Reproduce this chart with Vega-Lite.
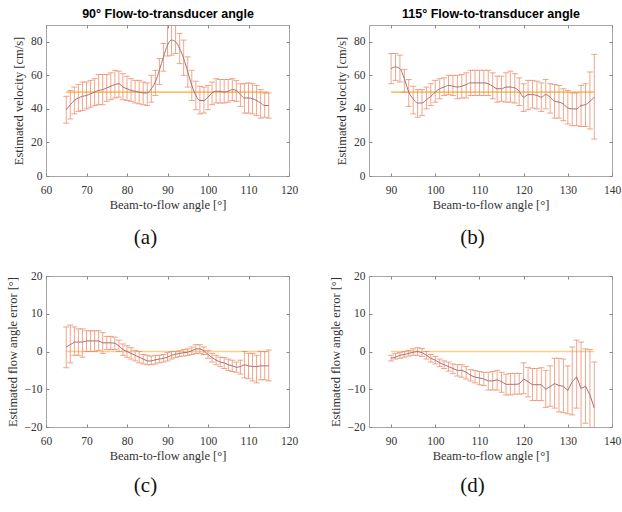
{
  "$schema": "https://vega.github.io/schema/vega-lite/v6.json",
  "background": "white",
  "padding": {"left": 5, "top": 7, "right": 0, "bottom": 0},
  "config": {
    "font": "Liberation Serif",
    "view": {"stroke": "#a6a6a6", "strokeWidth": 1},
    "axis": {"labelFont": "Liberation Serif", "labelFontSize": 11.5, "labelColor": "#333333", "titleFont": "Liberation Serif", "titleFontSize": 12.5, "titleFontWeight": "normal", "titleColor": "#333333", "grid": false, "domain": false, "tickColor": "#888888", "tickSize": -3, "labelPadding": 7, "labelFlush": false, "labelOverlap": false, "titlePadding": 5},
    "axisBottom": {"labelPadding": 11, "titlePadding": 3},
    "title": {"font": "Liberation Serif", "fontSize": 21, "fontWeight": "normal", "color": "#111111"}
  },
  "datasets": {
    "a": [
      {"angle":65,"mean":39.5,"lo":31.5,"hi":47.5,"ref":50},
      {"angle":66,"mean":42.5,"lo":34,"hi":51,"ref":50},
      {"angle":67,"mean":45,"lo":37,"hi":53,"ref":50},
      {"angle":68,"mean":46.5,"lo":38.5,"hi":54.5,"ref":50},
      {"angle":69,"mean":47.5,"lo":39,"hi":56,"ref":50},
      {"angle":70,"mean":48,"lo":40,"hi":56,"ref":50},
      {"angle":71,"mean":49,"lo":41,"hi":57,"ref":50},
      {"angle":72,"mean":50,"lo":42,"hi":58,"ref":50},
      {"angle":73,"mean":51,"lo":42.5,"hi":60.5,"ref":50},
      {"angle":74,"mean":51.5,"lo":42.5,"hi":60.5,"ref":50},
      {"angle":75,"mean":52.5,"lo":44.5,"hi":60.5,"ref":50},
      {"angle":76,"mean":53.5,"lo":45.5,"hi":61.5,"ref":50},
      {"angle":77,"mean":54.5,"lo":46.5,"hi":63,"ref":50},
      {"angle":78,"mean":55,"lo":47,"hi":62.5,"ref":50},
      {"angle":79,"mean":53,"lo":45.5,"hi":61,"ref":50},
      {"angle":80,"mean":52,"lo":45,"hi":59.5,"ref":50},
      {"angle":81,"mean":51,"lo":44.5,"hi":58,"ref":50},
      {"angle":82,"mean":50.5,"lo":43.5,"hi":57,"ref":50},
      {"angle":83,"mean":50,"lo":43,"hi":57,"ref":50},
      {"angle":84,"mean":49.5,"lo":42.5,"hi":56,"ref":50},
      {"angle":85,"mean":49.5,"lo":42,"hi":55.5,"ref":50},
      {"angle":86,"mean":52,"lo":44,"hi":60,"ref":50},
      {"angle":87,"mean":56,"lo":48,"hi":63,"ref":50},
      {"angle":88,"mean":63,"lo":54.5,"hi":70,"ref":50},
      {"angle":89,"mean":71,"lo":62.5,"hi":79,"ref":50},
      {"angle":90,"mean":78,"lo":71.5,"hi":90.5,"ref":50},
      {"angle":91,"mean":81,"lo":72,"hi":91,"ref":50},
      {"angle":92,"mean":80,"lo":73,"hi":90.5,"ref":50},
      {"angle":93,"mean":76,"lo":67,"hi":85,"ref":50},
      {"angle":94,"mean":70,"lo":60,"hi":81,"ref":50},
      {"angle":95,"mean":62,"lo":53,"hi":71,"ref":50},
      {"angle":96,"mean":54,"lo":45,"hi":63,"ref":50},
      {"angle":97,"mean":48,"lo":39.5,"hi":56.5,"ref":50},
      {"angle":98,"mean":45,"lo":37,"hi":53.5,"ref":50},
      {"angle":99,"mean":45,"lo":37.5,"hi":53,"ref":50},
      {"angle":100,"mean":47,"lo":39.5,"hi":54,"ref":50},
      {"angle":101,"mean":49.5,"lo":42.5,"hi":56,"ref":50},
      {"angle":102,"mean":50.5,"lo":43.5,"hi":58,"ref":50},
      {"angle":103,"mean":50.5,"lo":43.5,"hi":57.5,"ref":50},
      {"angle":104,"mean":50,"lo":43.5,"hi":57.5,"ref":50},
      {"angle":105,"mean":50.5,"lo":44,"hi":57.5,"ref":50},
      {"angle":106,"mean":51.5,"lo":45,"hi":58,"ref":50},
      {"angle":107,"mean":51,"lo":44.5,"hi":57,"ref":50},
      {"angle":108,"mean":48.5,"lo":41.5,"hi":55,"ref":50},
      {"angle":109,"mean":46.5,"lo":37.5,"hi":55,"ref":50},
      {"angle":110,"mean":46.5,"lo":37.5,"hi":55.5,"ref":50},
      {"angle":111,"mean":46,"lo":37,"hi":55,"ref":50},
      {"angle":112,"mean":45,"lo":36,"hi":54,"ref":50},
      {"angle":113,"mean":43.5,"lo":34.5,"hi":51.5,"ref":50},
      {"angle":114,"mean":42,"lo":35,"hi":49.5,"ref":50},
      {"angle":115,"mean":42,"lo":34.5,"hi":49.5,"ref":50}
    ],
    "b": [
      {"angle":90,"mean":64,"lo":55,"hi":73,"ref":50},
      {"angle":91,"mean":65,"lo":57,"hi":73,"ref":50},
      {"angle":92,"mean":64,"lo":56,"hi":72,"ref":50},
      {"angle":93,"mean":58,"lo":50,"hi":63.5,"ref":50},
      {"angle":94,"mean":50,"lo":41.5,"hi":57.5,"ref":50},
      {"angle":95,"mean":46,"lo":37,"hi":53.5,"ref":50},
      {"angle":96,"mean":43.5,"lo":35,"hi":51.5,"ref":50},
      {"angle":97,"mean":43.5,"lo":36,"hi":51.5,"ref":50},
      {"angle":98,"mean":45.5,"lo":40,"hi":53,"ref":50},
      {"angle":99,"mean":47.5,"lo":42,"hi":55,"ref":50},
      {"angle":100,"mean":50,"lo":44,"hi":57,"ref":50},
      {"angle":101,"mean":52,"lo":46,"hi":58,"ref":50},
      {"angle":102,"mean":53,"lo":48,"hi":58.5,"ref":50},
      {"angle":103,"mean":54,"lo":48.5,"hi":60,"ref":50},
      {"angle":104,"mean":53.5,"lo":48,"hi":60,"ref":50},
      {"angle":105,"mean":53,"lo":46,"hi":60,"ref":50},
      {"angle":106,"mean":53.5,"lo":46.5,"hi":60.5,"ref":50},
      {"angle":107,"mean":54.5,"lo":46.5,"hi":61.5,"ref":50},
      {"angle":108,"mean":55.5,"lo":48,"hi":63,"ref":50},
      {"angle":109,"mean":55.5,"lo":48,"hi":63,"ref":50},
      {"angle":110,"mean":55.5,"lo":48,"hi":63,"ref":50},
      {"angle":111,"mean":55.5,"lo":48,"hi":63,"ref":50},
      {"angle":112,"mean":55,"lo":48,"hi":63,"ref":50},
      {"angle":113,"mean":53.5,"lo":46,"hi":61.5,"ref":50},
      {"angle":114,"mean":52,"lo":44,"hi":59.5,"ref":50},
      {"angle":115,"mean":52,"lo":44.5,"hi":59.5,"ref":50},
      {"angle":116,"mean":53,"lo":44,"hi":61.5,"ref":50},
      {"angle":117,"mean":53,"lo":44,"hi":62.5,"ref":50},
      {"angle":118,"mean":52.5,"lo":43.5,"hi":61,"ref":50},
      {"angle":119,"mean":50.5,"lo":42,"hi":58.5,"ref":50},
      {"angle":120,"mean":47,"lo":38.5,"hi":55,"ref":50},
      {"angle":121,"mean":48.5,"lo":39.5,"hi":57,"ref":50},
      {"angle":122,"mean":48.5,"lo":40.5,"hi":57,"ref":50},
      {"angle":123,"mean":48,"lo":40,"hi":56.5,"ref":50},
      {"angle":124,"mean":47,"lo":38.5,"hi":55.5,"ref":50},
      {"angle":125,"mean":48.5,"lo":40,"hi":57.5,"ref":50},
      {"angle":126,"mean":47,"lo":37.5,"hi":55,"ref":50},
      {"angle":127,"mean":44.5,"lo":34.5,"hi":54.5,"ref":50},
      {"angle":128,"mean":44,"lo":34.5,"hi":54,"ref":50},
      {"angle":129,"mean":43,"lo":33,"hi":52,"ref":50},
      {"angle":130,"mean":40.5,"lo":31,"hi":51,"ref":50},
      {"angle":131,"mean":40,"lo":30,"hi":49.5,"ref":50},
      {"angle":132,"mean":40,"lo":30,"hi":49.5,"ref":50},
      {"angle":133,"mean":42,"lo":29.5,"hi":54,"ref":50},
      {"angle":134,"mean":42.5,"lo":29.5,"hi":55,"ref":50},
      {"angle":135,"mean":44.5,"lo":28,"hi":62,"ref":50},
      {"angle":136,"mean":47,"lo":22,"hi":72.5,"ref":50}
    ],
    "c": [
      {"angle":65,"mean":1.2,"lo":-4.3,"hi":6.5,"ref":0},
      {"angle":66,"mean":1.8,"lo":-3,"hi":7,"ref":0},
      {"angle":67,"mean":2.5,"lo":-1,"hi":6.5,"ref":0},
      {"angle":68,"mean":2.5,"lo":-1,"hi":6,"ref":0},
      {"angle":69,"mean":2.5,"lo":-1.5,"hi":6,"ref":0},
      {"angle":70,"mean":2.8,"lo":0,"hi":5.5,"ref":0},
      {"angle":71,"mean":2.8,"lo":0,"hi":5.5,"ref":0},
      {"angle":72,"mean":2.8,"lo":0,"hi":5.5,"ref":0},
      {"angle":73,"mean":2.8,"lo":0.3,"hi":5.5,"ref":0},
      {"angle":74,"mean":2.3,"lo":-0.5,"hi":5,"ref":0},
      {"angle":75,"mean":2.3,"lo":0.5,"hi":4,"ref":0},
      {"angle":76,"mean":2.3,"lo":0.5,"hi":4,"ref":0},
      {"angle":77,"mean":2.2,"lo":0.5,"hi":3.8,"ref":0},
      {"angle":78,"mean":1.5,"lo":0,"hi":3,"ref":0},
      {"angle":79,"mean":0.5,"lo":-1,"hi":2,"ref":0},
      {"angle":80,"mean":0,"lo":-1.5,"hi":1.5,"ref":0},
      {"angle":81,"mean":-0.5,"lo":-2,"hi":1,"ref":0},
      {"angle":82,"mean":-1,"lo":-2.5,"hi":0.3,"ref":0},
      {"angle":83,"mean":-1.5,"lo":-3,"hi":0,"ref":0},
      {"angle":84,"mean":-2,"lo":-3.3,"hi":-0.8,"ref":0},
      {"angle":85,"mean":-2.5,"lo":-3.5,"hi":-1,"ref":0},
      {"angle":86,"mean":-2.5,"lo":-3.5,"hi":-1.2,"ref":0},
      {"angle":87,"mean":-2.2,"lo":-3.3,"hi":-1,"ref":0},
      {"angle":88,"mean":-2,"lo":-3,"hi":-1,"ref":0},
      {"angle":89,"mean":-1.8,"lo":-2.8,"hi":-0.8,"ref":0},
      {"angle":90,"mean":-1.5,"lo":-2.5,"hi":-0.3,"ref":0},
      {"angle":91,"mean":-1,"lo":-2,"hi":0,"ref":0},
      {"angle":92,"mean":-0.7,"lo":-1.6,"hi":0,"ref":0},
      {"angle":93,"mean":-0.5,"lo":-1.3,"hi":0.2,"ref":0},
      {"angle":94,"mean":-0.3,"lo":-1.2,"hi":0.5,"ref":0},
      {"angle":95,"mean":-0.2,"lo":-1,"hi":0.7,"ref":0},
      {"angle":96,"mean":0.2,"lo":-0.8,"hi":1.2,"ref":0},
      {"angle":97,"mean":0.7,"lo":-0.5,"hi":1.8,"ref":0},
      {"angle":98,"mean":0.7,"lo":-0.5,"hi":1.8,"ref":0},
      {"angle":99,"mean":0.2,"lo":-0.8,"hi":1.2,"ref":0},
      {"angle":100,"mean":-0.8,"lo":-1.8,"hi":0.3,"ref":0},
      {"angle":101,"mean":-1.6,"lo":-2.8,"hi":-0.5,"ref":0},
      {"angle":102,"mean":-2.3,"lo":-3.5,"hi":-1,"ref":0},
      {"angle":103,"mean":-2.8,"lo":-4,"hi":-1.5,"ref":0},
      {"angle":104,"mean":-3,"lo":-4.5,"hi":-1.6,"ref":0},
      {"angle":105,"mean":-3.5,"lo":-5,"hi":-2,"ref":0},
      {"angle":106,"mean":-3.8,"lo":-5.3,"hi":-2.3,"ref":0},
      {"angle":107,"mean":-4.2,"lo":-5.5,"hi":-2.8,"ref":0},
      {"angle":108,"mean":-4,"lo":-6,"hi":-2.3,"ref":0},
      {"angle":109,"mean":-3.5,"lo":-7,"hi":0,"ref":0},
      {"angle":110,"mean":-3.8,"lo":-7.2,"hi":-0.5,"ref":0},
      {"angle":111,"mean":-4,"lo":-7.8,"hi":-0.5,"ref":0},
      {"angle":112,"mean":-4,"lo":-8.3,"hi":-1,"ref":0},
      {"angle":113,"mean":-3.8,"lo":-7.5,"hi":0,"ref":0},
      {"angle":114,"mean":-3.8,"lo":-7.5,"hi":0,"ref":0},
      {"angle":115,"mean":-3.8,"lo":-7.8,"hi":0.4,"ref":0}
    ],
    "d": [
      {"angle":90,"mean":-1.8,"lo":-2.5,"hi":-1,"ref":0},
      {"angle":91,"mean":-1.5,"lo":-2,"hi":-0.5,"ref":0},
      {"angle":92,"mean":-1,"lo":-1.8,"hi":-0.3,"ref":0},
      {"angle":93,"mean":-0.8,"lo":-1.5,"hi":0,"ref":0},
      {"angle":94,"mean":-0.5,"lo":-1.2,"hi":0.3,"ref":0},
      {"angle":95,"mean":-0.2,"lo":-1,"hi":0.7,"ref":0},
      {"angle":96,"mean":0,"lo":-1,"hi":1,"ref":0},
      {"angle":97,"mean":-0.3,"lo":-1.3,"hi":0.8,"ref":0},
      {"angle":98,"mean":-1,"lo":-2,"hi":0,"ref":0},
      {"angle":99,"mean":-1.8,"lo":-2.8,"hi":-0.8,"ref":0},
      {"angle":100,"mean":-2.3,"lo":-3.3,"hi":-1.3,"ref":0},
      {"angle":101,"mean":-3,"lo":-4,"hi":-2,"ref":0},
      {"angle":102,"mean":-3.5,"lo":-4.5,"hi":-2.5,"ref":0},
      {"angle":103,"mean":-4,"lo":-5.2,"hi":-2.8,"ref":0},
      {"angle":104,"mean":-4.5,"lo":-5.8,"hi":-3.3,"ref":0},
      {"angle":105,"mean":-5,"lo":-6.5,"hi":-3.5,"ref":0},
      {"angle":106,"mean":-5,"lo":-6.8,"hi":-3.5,"ref":0},
      {"angle":107,"mean":-5.5,"lo":-7.3,"hi":-4,"ref":0},
      {"angle":108,"mean":-6.3,"lo":-7.8,"hi":-4.8,"ref":0},
      {"angle":109,"mean":-6.8,"lo":-8.3,"hi":-5,"ref":0},
      {"angle":110,"mean":-7,"lo":-8.8,"hi":-5.3,"ref":0},
      {"angle":111,"mean":-7.3,"lo":-9,"hi":-5.5,"ref":0},
      {"angle":112,"mean":-7.8,"lo":-10.2,"hi":-5.5,"ref":0},
      {"angle":113,"mean":-7.8,"lo":-10.2,"hi":-5.3,"ref":0},
      {"angle":114,"mean":-7.5,"lo":-10.2,"hi":-5,"ref":0},
      {"angle":115,"mean":-8,"lo":-10.8,"hi":-5.5,"ref":0},
      {"angle":116,"mean":-8.7,"lo":-11.5,"hi":-6,"ref":0},
      {"angle":117,"mean":-8.7,"lo":-11.5,"hi":-5.8,"ref":0},
      {"angle":118,"mean":-8.7,"lo":-11.3,"hi":-5.8,"ref":0},
      {"angle":119,"mean":-8.6,"lo":-11.3,"hi":-5.8,"ref":0},
      {"angle":120,"mean":-7.3,"lo":-11.2,"hi":-3,"ref":0},
      {"angle":121,"mean":-8,"lo":-12,"hi":-4.2,"ref":0},
      {"angle":122,"mean":-8.8,"lo":-13,"hi":-4.5,"ref":0},
      {"angle":123,"mean":-8.8,"lo":-13,"hi":-4.5,"ref":0},
      {"angle":124,"mean":-8.8,"lo":-13,"hi":-4.3,"ref":0},
      {"angle":125,"mean":-10,"lo":-14.8,"hi":-5,"ref":0},
      {"angle":126,"mean":-9.3,"lo":-14.5,"hi":-3.8,"ref":0},
      {"angle":127,"mean":-8.5,"lo":-15,"hi":-1.8,"ref":0},
      {"angle":128,"mean":-9,"lo":-16,"hi":-1.8,"ref":0},
      {"angle":129,"mean":-9.2,"lo":-16.2,"hi":-2,"ref":0},
      {"angle":130,"mean":-10.3,"lo":-16.5,"hi":-3.8,"ref":0},
      {"angle":131,"mean":-8,"lo":-16.8,"hi":1.2,"ref":0},
      {"angle":132,"mean":-6.7,"lo":-15,"hi":3,"ref":0},
      {"angle":133,"mean":-9.8,"lo":-20.5,"hi":2.5,"ref":0},
      {"angle":134,"mean":-9.2,"lo":-19,"hi":0.7,"ref":0},
      {"angle":135,"mean":-11.5,"lo":-21,"hi":0.5,"ref":0},
      {"angle":136,"mean":-15,"lo":-22,"hi":-2.8,"ref":0}
    ]
  },
  "columns": 2,
  "spacing": {"column": 29, "row": 20},
  "concat": [
    {
      "width": 243, "height": 151,
      "data": {"name": "a"},
      "title": {"text": "(a)", "orient": "bottom", "offset": 16, "dx": -22},
      "resolve": {"axis": {"x": "independent", "y": "independent"}},
      "layer": [
        {"mark": {"type": "line", "color": "#f8c46a", "strokeWidth": 1.6},
         "encoding": {
           "x": {"field": "angle", "type": "quantitative", "scale": {"domain": [60, 120]}, "axis": {"orient": "bottom", "values": [60,70,80,90,100,110,120], "title": "Beam-to-flow angle [°]"}},
           "y": {"field": "ref", "type": "quantitative", "scale": {"domain": [0, 90]}, "axis": {"orient": "left", "values": [0,20,40,60,80], "title": "Estimated velocity [cm/s]"}}}},
        {"mark": {"type": "errorbar", "ticks": {"size": 6}, "color": "#ec8864", "opacity": 0.75, "thickness": 1, "clip": true},
         "encoding": {
           "x": {"field": "angle", "type": "quantitative", "axis": null},
           "y": {"field": "lo", "type": "quantitative", "axis": null},
           "y2": {"field": "hi"}}},
        {"mark": {"type": "line", "interpolate": "monotone", "color": "#a07078", "strokeWidth": 1},
         "encoding": {
           "x": {"field": "angle", "type": "quantitative", "axis": {"orient": "top", "values": [60,70,80,90,100,110,120], "labels": false, "title": "90° Flow-to-transducer angle", "titleFont": "Liberation Sans", "titleFontWeight": "bold", "titleFontSize": 12.5, "titleColor": "#000000", "titlePadding": 4}},
           "y": {"field": "mean", "type": "quantitative", "axis": {"orient": "right", "values": [0,20,40,60,80], "labels": false, "title": null}}}}
      ]
    },
    {
      "width": 243, "height": 151,
      "data": {"name": "b"},
      "title": {"text": "(b)", "orient": "bottom", "offset": 16, "dx": -18},
      "resolve": {"axis": {"x": "independent", "y": "independent"}},
      "layer": [
        {"mark": {"type": "line", "color": "#f8c46a", "strokeWidth": 1.6},
         "encoding": {
           "x": {"field": "angle", "type": "quantitative", "scale": {"domain": [85, 140]}, "axis": {"orient": "bottom", "values": [90,100,110,120,130,140], "title": "Beam-to-flow angle [°]"}},
           "y": {"field": "ref", "type": "quantitative", "scale": {"domain": [0, 90]}, "axis": {"orient": "left", "values": [0,20,40,60,80], "title": "Estimated velocity [cm/s]"}}}},
        {"mark": {"type": "errorbar", "ticks": {"size": 6}, "color": "#ec8864", "opacity": 0.75, "thickness": 1, "clip": true},
         "encoding": {
           "x": {"field": "angle", "type": "quantitative", "axis": null},
           "y": {"field": "lo", "type": "quantitative", "axis": null},
           "y2": {"field": "hi"}}},
        {"mark": {"type": "line", "interpolate": "monotone", "color": "#a07078", "strokeWidth": 1},
         "encoding": {
           "x": {"field": "angle", "type": "quantitative", "axis": {"orient": "top", "values": [90,100,110,120,130,140], "labels": false, "title": "115° Flow-to-transducer angle", "titleFont": "Liberation Sans", "titleFontWeight": "bold", "titleFontSize": 12.5, "titleColor": "#000000", "titlePadding": 4}},
           "y": {"field": "mean", "type": "quantitative", "axis": {"orient": "right", "values": [0,20,40,60,80], "labels": false, "title": null}}}}
      ]
    },
    {
      "width": 243, "height": 151,
      "data": {"name": "c"},
      "title": {"text": "(c)", "orient": "bottom", "offset": 13, "dx": -22},
      "resolve": {"axis": {"x": "independent", "y": "independent"}},
      "layer": [
        {"mark": {"type": "line", "color": "#f9d08e", "strokeWidth": 1.6},
         "encoding": {
           "x": {"field": "angle", "type": "quantitative", "scale": {"domain": [60, 120]}, "axis": {"orient": "bottom", "values": [60,70,80,90,100,110,120], "title": "Beam-to-flow angle [°]"}},
           "y": {"field": "ref", "type": "quantitative", "scale": {"domain": [-20, 20]}, "axis": {"orient": "left", "values": [-20,-10,0,10,20], "title": "Estimated flow angle error [°]"}}}},
        {"mark": {"type": "errorbar", "ticks": {"size": 6}, "color": "#ec8864", "opacity": 0.75, "thickness": 1, "clip": true},
         "encoding": {
           "x": {"field": "angle", "type": "quantitative", "axis": null},
           "y": {"field": "lo", "type": "quantitative", "axis": null},
           "y2": {"field": "hi"}}},
        {"mark": {"type": "line", "color": "#a07078", "strokeWidth": 1},
         "encoding": {
           "x": {"field": "angle", "type": "quantitative", "axis": {"orient": "top", "values": [60,70,80,90,100,110,120], "labels": false, "title": null}},
           "y": {"field": "mean", "type": "quantitative", "axis": {"orient": "right", "values": [-20,-10,0,10,20], "labels": false, "title": null}}}}
      ]
    },
    {
      "width": 243, "height": 151,
      "data": {"name": "d"},
      "title": {"text": "(d)", "orient": "bottom", "offset": 13, "dx": -18},
      "resolve": {"axis": {"x": "independent", "y": "independent"}},
      "layer": [
        {"mark": {"type": "line", "color": "#f9d08e", "strokeWidth": 1.6},
         "encoding": {
           "x": {"field": "angle", "type": "quantitative", "scale": {"domain": [85, 140]}, "axis": {"orient": "bottom", "values": [90,100,110,120,130,140], "title": "Beam-to-flow angle [°]"}},
           "y": {"field": "ref", "type": "quantitative", "scale": {"domain": [-20, 20]}, "axis": {"orient": "left", "values": [-20,-10,0,10,20], "title": "Estimated flow angle error [°]"}}}},
        {"mark": {"type": "errorbar", "ticks": {"size": 6}, "color": "#ec8864", "opacity": 0.75, "thickness": 1, "clip": true},
         "encoding": {
           "x": {"field": "angle", "type": "quantitative", "axis": null},
           "y": {"field": "lo", "type": "quantitative", "axis": null},
           "y2": {"field": "hi"}}},
        {"mark": {"type": "line", "color": "#a07078", "strokeWidth": 1},
         "encoding": {
           "x": {"field": "angle", "type": "quantitative", "axis": {"orient": "top", "values": [90,100,110,120,130,140], "labels": false, "title": null}},
           "y": {"field": "mean", "type": "quantitative", "axis": {"orient": "right", "values": [-20,-10,0,10,20], "labels": false, "title": null}}}}
      ]
    }
  ]
}
